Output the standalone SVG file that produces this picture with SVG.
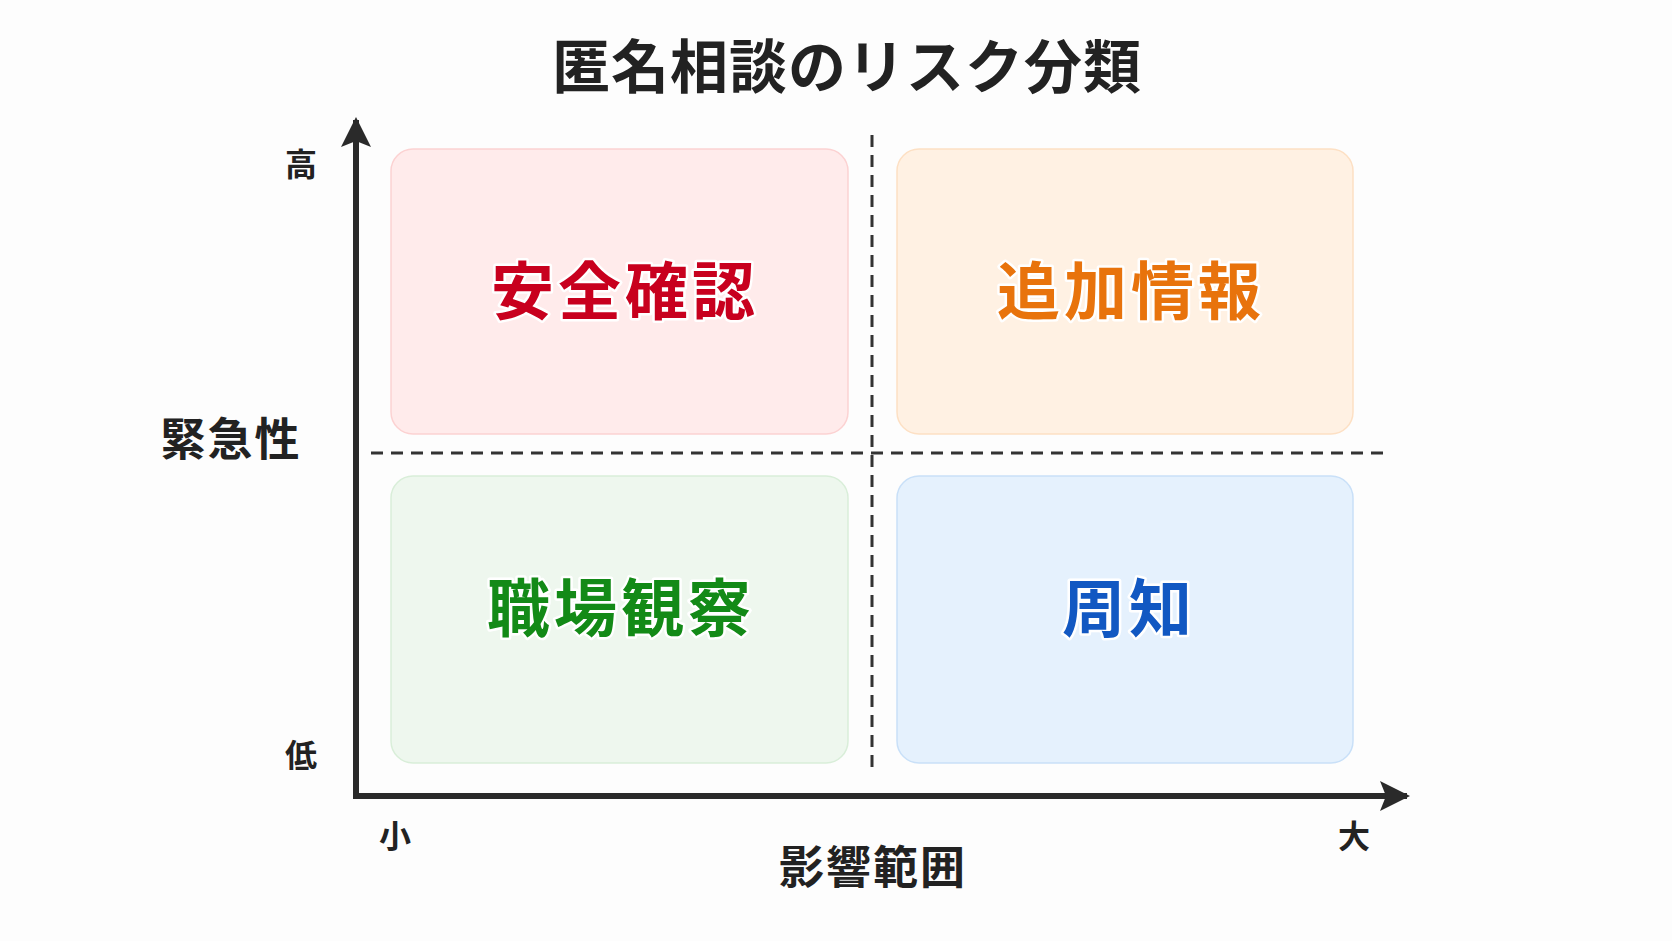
<svg xmlns="http://www.w3.org/2000/svg" width="1672" height="941" viewBox="0 0 1672 941">
<defs>
<style>
text{font-family:"Noto Sans CJK JP","Noto Sans CJK SC",sans-serif;text-anchor:middle;dominant-baseline:central}
.title{font-size:58px;font-weight:700;fill:#222;letter-spacing:1px}
.lbl{font-size:63px;font-weight:700;stroke:#fff;stroke-width:5;paint-order:stroke;stroke-linejoin:round;letter-spacing:4px}
.ax{font-size:32px;font-weight:700;fill:#222}
.axt{font-size:45px;font-weight:700;fill:#222;letter-spacing:2px}
.box{stroke-width:1.5}
.dash{stroke:#333;stroke-width:3;stroke-dasharray:12 8;fill:none}
.axis{stroke:#2a2a2a;stroke-width:6;fill:none}
</style>
<marker id="ah" viewBox="0 0 10 10" refX="9" refY="5" markerWidth="5" markerHeight="5" orient="auto" markerUnits="strokeWidth">
<path d="M0,0 L10,5 L0,10 L2,5 Z" fill="#2a2a2a"/>
</marker>
</defs>
<rect width="1672" height="941" fill="#fdfdfd"/>
<text class="title" x="847" y="63">匿名相談のリスク分類</text>

<g id="q1"><rect class="box" x="391" y="149" width="457" height="285" rx="22" fill="#ffebeb" stroke="#fcd2d2"/><text class="lbl" x="625" y="286" fill="#c8001e">安全確認</text></g>
<g id="q2"><rect class="box" x="897" y="149" width="456" height="285" rx="22" fill="#fff1e3" stroke="#fde0c4"/><text class="lbl" x="1131" y="286" fill="#e8730c">追加情報</text></g>
<g id="q3"><rect class="box" x="391" y="476" width="457" height="287" rx="22" fill="#eef7ee" stroke="#d9eed9"/><text class="lbl" x="621" y="603" fill="#138a17">職場観察</text></g>
<g id="q4"><rect class="box" x="897" y="476" width="456" height="287" rx="22" fill="#e5f1fd" stroke="#c9e0f8"/><text class="lbl" x="1129" y="603" fill="#1258c2">周知</text></g>

<g id="connectors">
<line class="dash" x1="872" y1="135" x2="872" y2="775"/>
<line class="dash" x1="371" y1="453" x2="1383" y2="453"/>
<path class="axis" d="M356,796 V120" marker-end="url(#ah)"/>
<path class="axis" d="M353,796 H1407" marker-end="url(#ah)"/>
</g>

<g id="labels">
<text class="ax" x="301" y="162">高</text>
<text class="ax" x="301" y="753">低</text>
<text class="axt" x="231" y="436">緊急性</text>
<text class="ax" x="395" y="834">小</text>
<text class="ax" x="1354" y="834">大</text>
<text class="axt" x="873" y="864">影響範囲</text>
</g>
</svg>
